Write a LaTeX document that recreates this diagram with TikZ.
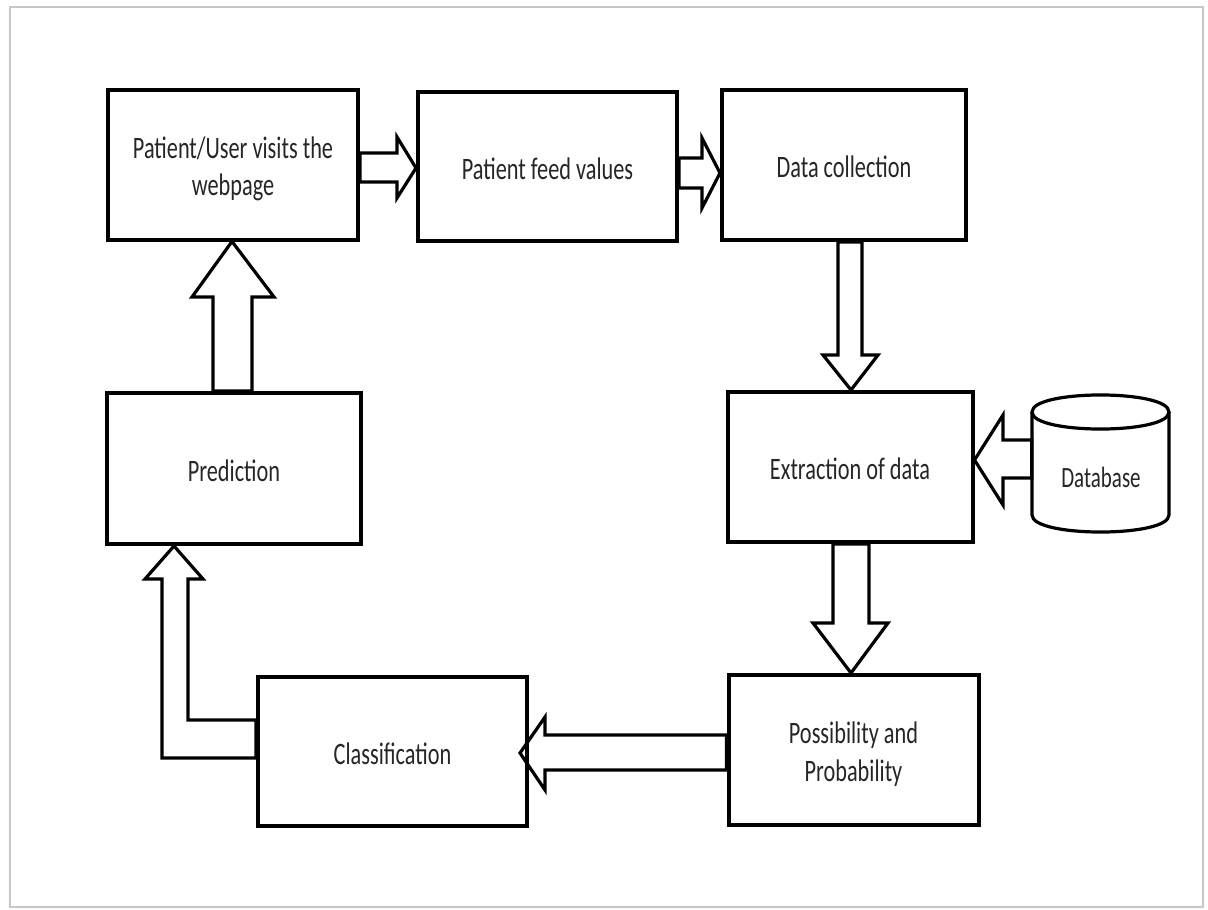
\documentclass[tikz,border=0pt]{standalone}
\usepackage{fontspec}
\setmainfont{Carlito}
\usepackage{graphicx}
\usetikzlibrary{backgrounds,calc}
\newcommand{\btxt}[1]{\raisebox{0pt}[\dimexpr\height+10pt][\depth]{\scalebox{1}[1.4]{\begin{tabular}{@{}c@{}}#1\end{tabular}}}}
\tikzset{
  stepbox/.style={draw=black, line width=4pt, inner sep=0pt,
    font=\fontsize{22.3}{26.8}\selectfont, text=black!85},
  blockarrow/.style={draw=black, fill=white, line width=3.2pt, line join=miter},
  dbline/.style={draw=black, line width=3.2pt},
  frame/.style={draw=black!22, line width=2.5pt}
}
\begin{document}
\begin{tikzpicture}[x=1pt,y=-1pt]
\useasboundingbox (0,0) rectangle (1208,910);

% process boxes
\node[stepbox, minimum width=250pt, minimum height=150pt] (a) at (233,164.5) {\btxt{Patient/User visits the\\webpage}};
\node[stepbox, minimum width=259pt, minimum height=149pt] (b) at (547.5,166.5) {\btxt{Patient feed values}};
\node[stepbox, minimum width=244pt, minimum height=150pt] (c) at (844,165) {\btxt{Data collection}};
\node[stepbox, minimum width=245pt, minimum height=150pt] (d) at (850,467) {\btxt{Extraction of data}};
\node[stepbox, minimum width=250pt, minimum height=150pt] (f) at (853.5,750) {\btxt{Possibility and\\Probability}};
\node[stepbox, minimum width=269pt, minimum height=149pt] (g) at (392.5,751.5) {\btxt{Classification}};
\node[stepbox, minimum width=254pt, minimum height=151pt] (h) at (234,468.5) {\btxt{Prediction}};

% database cylinder
\node[minimum width=137pt, minimum height=137pt, inner sep=0pt] (db) at (1100.5,463.5) {};
\node[font=\fontsize{21}{25}\selectfont, text=black!85] (dbt) at (1101,477) {\scalebox{1}[1.4]{Database}};
\draw[dbline] (1032,412) .. controls (1032,389.3) and (1169,389.3) .. (1169,412)
   .. controls (1169,434.7) and (1032,434.7) .. (1032,412) -- cycle;
\draw[dbline] (1032,412) -- (1032,515) .. controls (1032,537.7) and (1169,537.7) .. (1169,515) -- (1169,412);

\begin{scope}[on background layer]
\fill[white] (0,0) rectangle (1208,910);
\draw[frame] (10,7) rectangle (1203,907);
% a -> b
\draw[blockarrow] (a.east |- 0,153) -- (397,153) -- (397,137) -- (b.west |- 0,168)
   -- (397,198) -- (397,182) -- (a.east |- 0,182) -- cycle;
% b -> c
\draw[blockarrow] (b.east |- 0,158) -- (702,158) -- (702,138) -- (c.west |- 0,173)
   -- (702,208) -- (702,188) -- (b.east |- 0,188) -- cycle;
% c -> d
\draw[blockarrow] (838,0 |- c.south) -- (838,355) -- (823,355) -- (851,0 |- d.north)
   -- (878,355) -- (862,355) -- (862,0 |- c.south) -- cycle;
% d -> f
\draw[blockarrow] (833,0 |- d.south) -- (833,623) -- (813,623) -- (851,0 |- f.north)
   -- (888,623) -- (869,623) -- (869,0 |- d.south) -- cycle;
% db -> d
\draw[blockarrow] (db.west |- 0,440) -- (1003,440) -- (1003,415) -- (d.east |- 0,460)
   -- (1003,505) -- (1003,478) -- (db.west |- 0,478) -- cycle;
% f -> g
\draw[blockarrow] (f.west |- 0,735) -- (545,735) -- (545,717) -- (520,753)
   -- (545,790) -- (545,770) -- (f.west |- 0,770) -- cycle;
% g -> h (elbow)
\draw[blockarrow] (g.west |- 0,720) -- (188,720) -- (188,579) -- (203,579) -- (174,0 |- h.south)
   -- (145,579) -- (162,579) -- (162,758) -- (g.west |- 0,758) -- cycle;
% h -> a
\draw[blockarrow] (213,0 |- h.north) -- (213,297) -- (192,297) -- (232,0 |- a.south)
   -- (274,297) -- (252,297) -- (252,0 |- h.north) -- cycle;
\end{scope}
\end{tikzpicture}
\end{document}
